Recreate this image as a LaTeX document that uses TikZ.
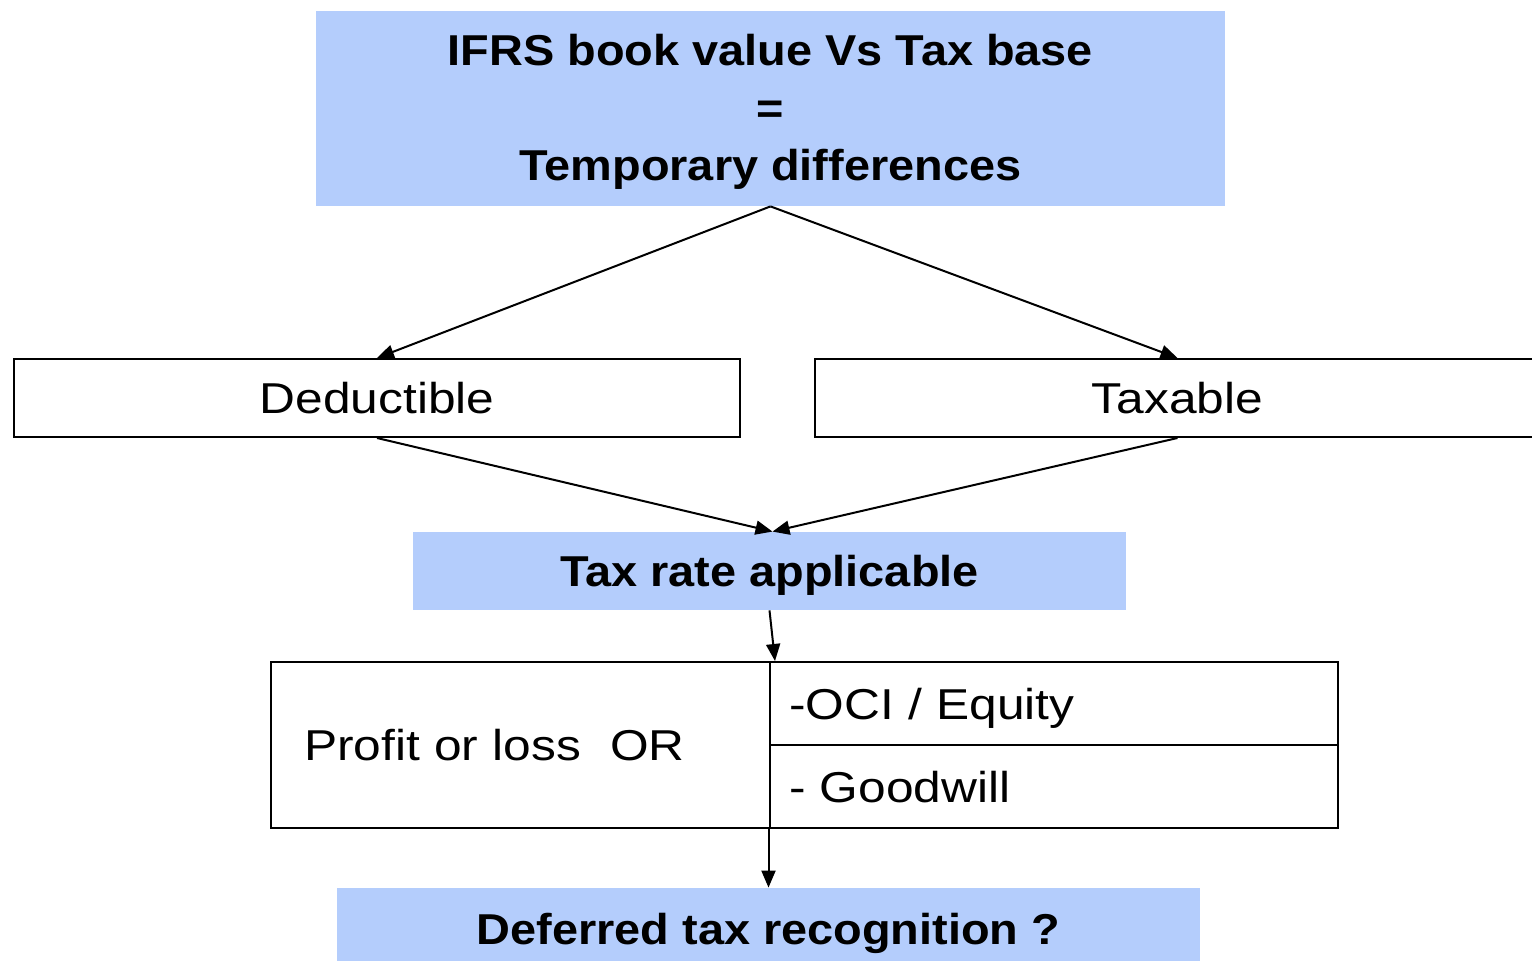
\documentclass[tikz,border=0pt]{standalone}
\usepackage{fontspec}
\setmainfont{Liberation Sans}
\newfontfamily\regfam[FakeStretch=1.15]{Liberation Sans}
\newfontfamily\boldfam[FakeStretch=1.085]{Liberation Sans}
\usetikzlibrary{arrows.meta,calc}
\definecolor{boxblue}{RGB}{180,205,252}
\begin{document}
\begin{tikzpicture}[x=0.5pt,y=-0.5pt,
  bluebox/.style={fill=boxblue,draw=none,inner sep=0pt,align=center,
    font=\boldfam\fontsize{21.6}{28.75}\selectfont\bfseries},
  oneline/.style={text height=20pt,text depth=4pt},
  whitebox/.style={draw=black,line width=1pt,inner sep=0pt,align=center,
    text height=20pt,text depth=4pt,
    font=\regfam\fontsize{21.6}{26}\selectfont},
  arr/.style={line width=1pt,-{Triangle[length=8.5pt,width=7pt]}}]
\useasboundingbox (0,0) rectangle (1532,961);
\node[bluebox,minimum width=454.5pt,minimum height=97.5pt] (top) at (770.5,108.5)
  {\rule{0pt}{19.2pt}IFRS book value Vs Tax base\\=\\Temporary differences};
\node[whitebox,minimum width=363pt,minimum height=39pt] (ded) at (377,398) {Deductible};
\node[whitebox,minimum width=362.5pt,minimum height=39pt] (tax) at (1177.5,398) {Taxable};
\node[bluebox,oneline,minimum width=356.5pt,minimum height=39pt] (rate) at (769.5,571) {Tax rate applicable};
\node[whitebox,minimum height=83pt,inner xsep=16.5pt,text width=216.5pt,align=left] (pl) at (520.5,745) {Profit or loss\ \ OR};
\node[whitebox,minimum height=41.5pt,inner xsep=9.5pt,text width=265pt,align=left] (oci) at (1054,703.5) {-OCI / Equity};
\node[whitebox,minimum height=41.5pt,inner xsep=9.5pt,text width=265pt,align=left] (gw) at (1054,786.5) {- Goodwill};
\node[bluebox,oneline,minimum width=431.5pt,minimum height=40pt] (def) at (768.5,928) {Deferred tax recognition ?};
\draw[arr] (top.south) -- (ded.north);
\draw[arr] (top.south) -- (tax.north);
\draw[arr] (ded.south) -- ([xshift=1.5pt]rate.north);
\draw[arr] (tax.south) -- ([xshift=1.5pt]rate.north);
\draw[arr] (rate.south) -- ([xshift=2pt]pl.north east);
\draw[arr] (pl.south east -| def.north) -- (def.north);
\end{tikzpicture}
\end{document}
